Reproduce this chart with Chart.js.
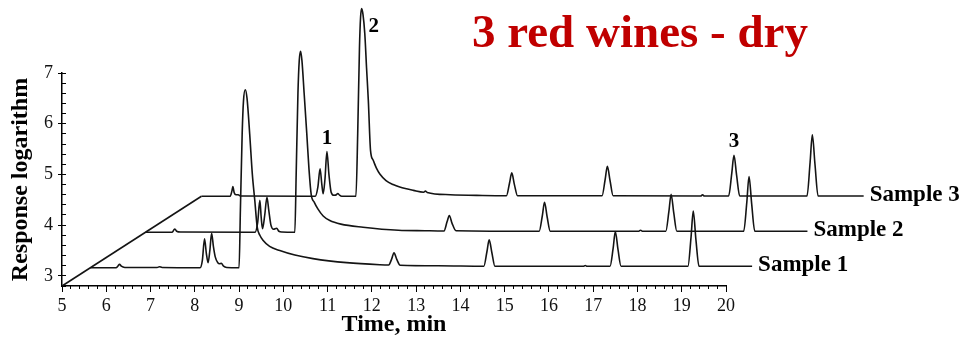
<!DOCTYPE html>
<html>
<head>
<meta charset="utf-8">
<script src="https://cdn.jsdelivr.net/npm/chart.js@4.4.1/dist/chart.umd.min.js"></script>
<style>
  html, body { margin: 0; padding: 0; background: #fff; }
</style>
</head>
<body>
<canvas id="chromChart" width="964" height="341"></canvas>
<script>
const SERIF = '"Liberation Serif", "Times New Roman", serif';
const INK = '#141414';

const chartTitle = '3 red wines - dry';
const sampleNames = ['Sample 1', 'Sample 2', 'Sample 3'];

const timeTicks = [5, 6, 7, 8, 9, 10, 11, 12, 13, 14, 15, 16, 17, 18, 19, 20];
const responseTicks = [3, 4, 5, 6, 7];

// [time, log response] as plotted; each run is shifted back along the depth axis
const sample1 = [
  [5.64, 3.16], [6.22, 3.16], [6.27, 3.2], [6.30, 3.23], [6.34, 3.19], [6.42, 3.165],
  [7.15, 3.165], [7.20, 3.18], [7.26, 3.165],
  [8.12, 3.16], [8.17, 3.3], [8.22, 3.73], [8.26, 3.45], [8.30, 3.26], [8.34, 3.5], [8.38, 3.84],
  [8.42, 3.58], [8.46, 3.38], [8.52, 3.26], [8.56, 3.24], [8.60, 3.25], [8.65, 3.19], [8.72, 3.165],
  [8.98, 3.16], [9.00, 3.16], [9.03, 4.3], [9.07, 5.8], [9.10, 6.45], [9.14, 6.67], [9.18, 6.5],
  [9.24, 5.8], [9.30, 5.0], [9.355, 4.49], [9.41, 3.96], [9.47, 3.80], [9.54, 3.70], [9.69, 3.58],
  [9.92, 3.50], [10.26, 3.41], [10.67, 3.34], [11.43, 3.26], [12.18, 3.22],
  [12.38, 3.215], [12.45, 3.34], [12.50, 3.455], [12.56, 3.33], [12.64, 3.21],
  [13.5, 3.2], [14.53, 3.19], [14.60, 3.48], [14.65, 3.71], [14.71, 3.46], [14.78, 3.19],
  [16.78, 3.19], [16.82, 3.205], [16.86, 3.19],
  [17.38, 3.19], [17.45, 3.54], [17.50, 3.875], [17.56, 3.52], [17.63, 3.19],
  [19.14, 3.19], [19.21, 3.76], [19.26, 4.28], [19.32, 3.72], [19.39, 3.19],
  [20.59, 3.19]
];

const sample2 = [
  [6.89, 3.86], [7.49, 3.86], [7.53, 3.91], [7.55, 3.925], [7.59, 3.88], [7.68, 3.865],
  [9.36, 3.86], [9.42, 4.05], [9.47, 4.49], [9.50, 4.15], [9.53, 3.93], [9.58, 4.2], [9.63, 4.55],
  [9.67, 4.3], [9.72, 4.0], [9.78, 3.92], [9.85, 3.94], [9.90, 3.88], [9.97, 3.865],
  [10.26, 3.86], [10.29, 5.0], [10.33, 6.6], [10.36, 7.25], [10.39, 7.43], [10.42, 7.25],
  [10.47, 6.6], [10.53, 5.8], [10.58, 5.1], [10.63, 4.6], [10.70, 4.45], [10.78, 4.32],
  [10.90, 4.18], [11.05, 4.09], [11.3, 4.02], [11.8, 3.96], [12.6, 3.90], [13.2, 3.89],
  [13.63, 3.885], [13.70, 4.07], [13.75, 4.19], [13.81, 4.04], [13.90, 3.89],
  [15.78, 3.88], [15.85, 4.18], [15.90, 4.45], [15.96, 4.16], [16.03, 3.88],
  [18.03, 3.88], [18.07, 3.9], [18.11, 3.88],
  [18.64, 3.88], [18.71, 4.27], [18.76, 4.61], [18.82, 4.24], [18.89, 3.88],
  [20.40, 3.88], [20.47, 4.45], [20.52, 4.96], [20.58, 4.42], [20.65, 3.88],
  [21.84, 3.88]
];

const sample3 = [
  [8.15, 4.57], [8.80, 4.57], [8.84, 4.68], [8.86, 4.76], [8.89, 4.64], [8.93, 4.60], [8.98, 4.6], [9.03, 4.575],
  [10.72, 4.57], [10.78, 4.75], [10.83, 5.11], [10.87, 4.8], [10.90, 4.62], [10.94, 4.9], [10.985, 5.45],
  [11.03, 5.0], [11.08, 4.65], [11.14, 4.59], [11.20, 4.6], [11.23, 4.625], [11.27, 4.59], [11.32, 4.57],
  [11.64, 4.57], [11.68, 5.8], [11.72, 7.5], [11.745, 8.1], [11.77, 8.27], [11.80, 8.15], [11.84, 7.78],
  [11.88, 7.1], [11.92, 6.46], [11.97, 5.47], [12.03, 5.28], [12.10, 5.13], [12.18, 5.01], [12.32, 4.88],
  [12.48, 4.80], [12.63, 4.75], [12.94, 4.685], [13.17, 4.65], [13.21, 4.67], [13.25, 4.645],
  [13.77, 4.60], [14.5, 4.585],
  [15.04, 4.58], [15.11, 4.83], [15.16, 5.03], [15.22, 4.8], [15.29, 4.58],
  [17.20, 4.58], [17.27, 4.9], [17.32, 5.16], [17.38, 4.88], [17.45, 4.58],
  [19.43, 4.575], [19.47, 4.6], [19.51, 4.575],
  [20.06, 4.575], [20.13, 5.02], [20.18, 5.375], [20.24, 4.98], [20.31, 4.575],
  [21.83, 4.575], [21.90, 5.24], [21.95, 5.78], [22.01, 5.2], [22.08, 4.575],
  [23.11, 4.575]
];

// depth axis: from the origin to where the back run starts
const depthAxis = [[5, 2.8], [8.15, 4.57]];

// numbered peaks on the Sample 3 run
const peakNumbers = ['1', '2', '3'];
const peakTimes = [10.985, 11.77, 20.18];
const peakLabelShift = [[0, -8], [12, 23], [0, -8]];

const runs = [sample1, sample2, sample3];
const toPoints = (run) => run.map(([x, y]) => ({ x, y }));
const toTicks = (values) => values.map((value) => ({ value }));

const lineStyle = {
  borderColor: INK,
  borderWidth: 1.6,
  pointRadius: 0,
  fill: false,
  clip: false,
  cubicInterpolationMode: 'monotone'
};

const textLayer = {
  id: 'textLayer',
  afterDatasetsDraw(chart) {
    const { ctx, scales: { x, y } } = chart;
    ctx.save();

    ctx.fillStyle = '#c00000';
    ctx.font = `bold 47px ${SERIF}`;
    ctx.textAlign = 'left';
    ctx.textBaseline = 'alphabetic';
    ctx.fillText(chartTitle, 472, 47);

    ctx.fillStyle = '#000';
    ctx.font = `bold 23px ${SERIF}`;
    runs.forEach((run, i) => {
      const [t, r] = run[run.length - 1];
      ctx.fillText(sampleNames[i], x.getPixelForValue(t) + 6, y.getPixelForValue(r) + 5);
    });

    ctx.font = `bold 21px ${SERIF}`;
    ctx.textAlign = 'center';
    peakTimes.forEach((t, i) => {
      const top = sample3.find((p) => p[0] === t);
      const [dx, dy] = peakLabelShift[i];
      ctx.fillText(peakNumbers[i], x.getPixelForValue(top[0]) + dx, y.getPixelForValue(top[1]) + dy);
    });

    ctx.restore();
  }
};

const tickFont = { family: SERIF, size: 18 };
const axisTitleFont = { family: SERIF, size: 24, weight: 'bold' };

new Chart(document.getElementById('chromChart'), {
  type: 'line',
  data: {
    datasets: [
      ...runs.map((run, i) => ({ label: sampleNames[i], data: toPoints(run), ...lineStyle })),
      { label: 'depth', data: toPoints(depthAxis), ...lineStyle, cubicInterpolationMode: 'default', tension: 0 }
    ]
  },
  options: {
    responsive: false,
    animation: false,
    devicePixelRatio: 1,
    layout: { padding: { left: 0, right: 238, top: 73, bottom: 0 } },
    plugins: { legend: { display: false }, tooltip: { enabled: false } },
    scales: {
      // range set after the data limits so the runs past 20 min are still drawn
      x: {
        type: 'linear', position: 'bottom', weight: 1, bounds: 'data',
        afterDataLimits: (s) => { s.min = timeTicks[0]; s.max = timeTicks[timeTicks.length - 1]; },
        afterBuildTicks: (s) => { s.ticks = toTicks(timeTicks); },
        ticks: { autoSkip: false, maxRotation: 0, color: '#111', font: tickFont, padding: 3 },
        grid: { drawOnChartArea: false, tickLength: 6, color: '#000', lineWidth: 1 },
        border: { color: '#000', width: 1.5 },
        title: { display: true, text: 'Time, min', color: '#000', font: axisTitleFont, padding: { top: 0, bottom: 2 } },
        afterFit: (s) => { s.height = 55; }
      },
      xMinor: {
        type: 'linear', position: 'bottom', weight: 0, bounds: 'data',
        min: 5, max: 20,
        ticks: { display: false, stepSize: 0.2, autoSkip: false },
        grid: { drawOnChartArea: false, tickLength: 3, color: '#000', lineWidth: 1 },
        border: { display: false },
        afterFit: (s) => { s.height = 0; }
      },
      y: {
        type: 'linear', position: 'left', weight: 1, bounds: 'data',
        min: 2.8, max: 7,
        afterBuildTicks: (s) => { s.ticks = toTicks(responseTicks); },
        ticks: { color: '#111', font: tickFont, padding: 5 },
        grid: { drawOnChartArea: false, tickLength: 4, color: '#000', lineWidth: 1 },
        border: { color: '#000', width: 1.5 },
        title: { display: true, text: 'Response logarithm', color: '#000', font: axisTitleFont, padding: { top: 6, bottom: 0 } },
        afterFit: (s) => { s.width = 62; }
      },
      yMinor: {
        type: 'linear', position: 'left', weight: 0, bounds: 'data',
        min: 2.8, max: 7,
        ticks: { display: false, stepSize: 0.2, autoSkip: false },
        grid: { drawOnChartArea: false, tickLength: -4, color: '#000', lineWidth: 1 },
        border: { display: false },
        afterFit: (s) => { s.width = 0; }
      }
    }
  },
  plugins: [textLayer]
});
</script>
</body>
</html>
